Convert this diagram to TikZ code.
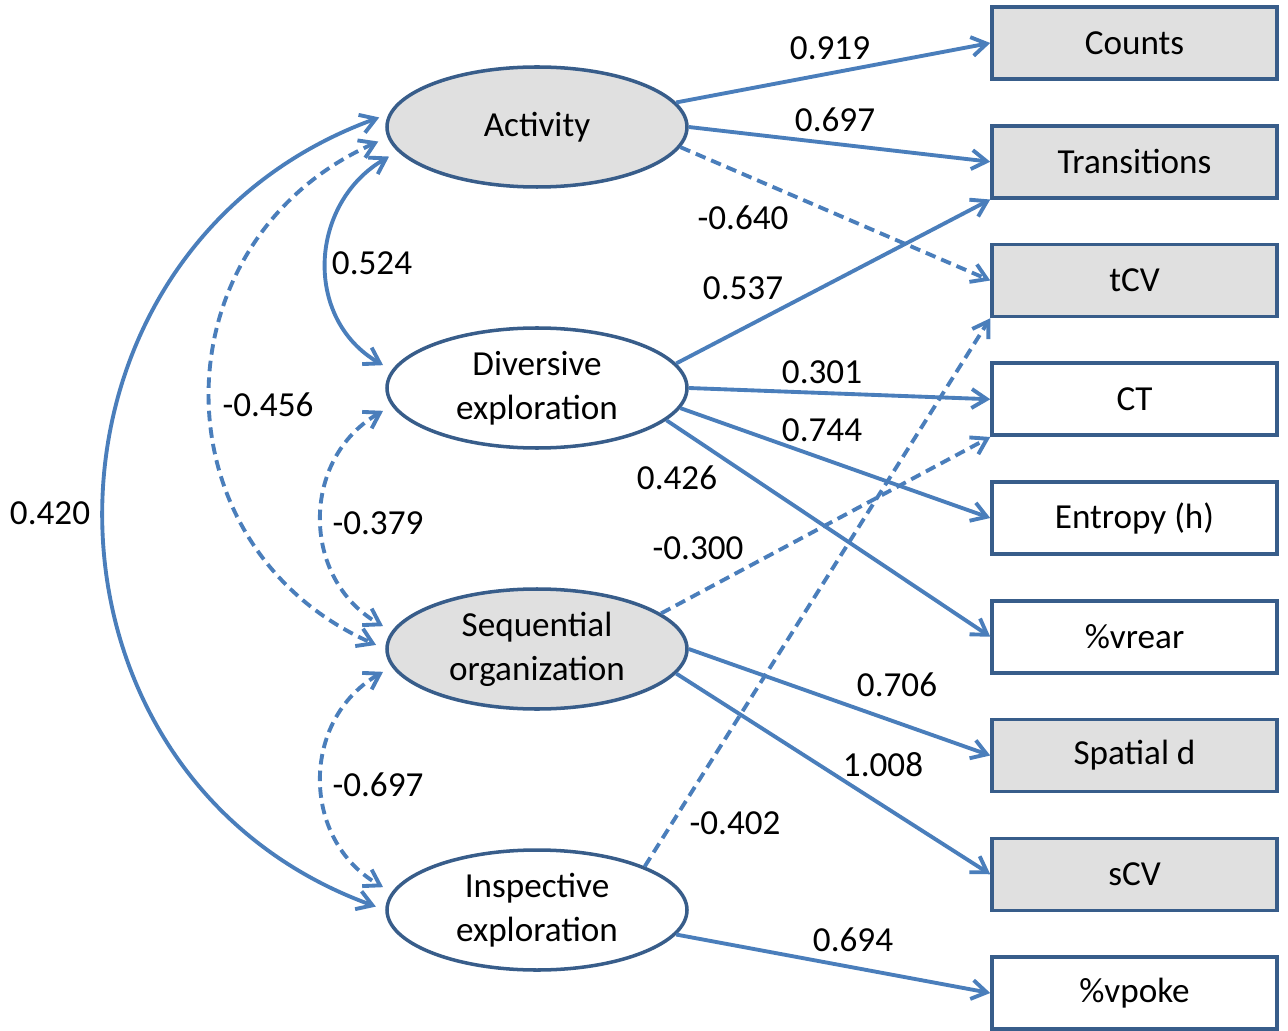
\documentclass[tikz,border=0pt]{standalone}
\usepackage{fontspec}
\setmainfont{Carlito}
\usetikzlibrary{shapes.geometric, arrows.meta}
\definecolor{pathblue}{RGB}{74,126,187}
\definecolor{borderblue}{RGB}{56,93,138}
\definecolor{factorgray}{RGB}{224,224,224}

\begin{document}
\begin{tikzpicture}[
    latent/.style={ellipse, draw=borderblue, line width=2pt, minimum width=6cm, minimum height=2.4cm, inner sep=0pt, align=center, font=\fontsize{20}{25}\selectfont},
    indicator/.style={rectangle, draw=borderblue, line width=2pt, minimum width=5.7cm, minimum height=1.44cm, inner sep=0pt, font=\fontsize{20}{25}\selectfont},
    shaded/.style={fill=factorgray},
    coef/.style={font=\fontsize{20}{25}\selectfont, inner sep=1pt},
    load/.style={-{Straight Barb[length=0.3cm, width=0.38cm]}, line width=2.2pt, color=pathblue},
    cov/.style={{Straight Barb[length=0.3cm, width=0.38cm]}-{Straight Barb[length=0.3cm, width=0.38cm]}, line width=2.2pt, color=pathblue, shorten <=0.2cm, shorten >=0.2cm},
    negpath/.style={dash pattern=on 6pt off 3.5pt}
]
\useasboundingbox (0,0) rectangle (25.76,20.6);

% Latent factors
\node[latent, shaded] (act) at (10.74,18.06) {Activity};
\node[latent] (div) at (10.74,12.84) {Diversive\\exploration};
\node[latent, shaded] (seq) at (10.74,7.62) {Sequential\\organization};
\node[latent] (ins) at (10.74,2.40) {Inspective\\exploration};

% Measured variables
\node[indicator, shaded] (counts) at (22.69,19.74) {Counts};
\node[indicator, shaded] (trans) at (22.69,17.365) {Transitions};
\node[indicator, shaded] (tcv) at (22.69,14.99) {tCV};
\node[indicator] (ct) at (22.69,12.615) {CT};
\node[indicator] (entropy) at (22.69,10.24) {Entropy (h)};
\node[indicator] (vrear) at (22.69,7.865) {\%vrear};
\node[indicator, shaded] (spatial) at (22.69,5.49) {Spatial d};
\node[indicator, shaded] (scv) at (22.69,3.115) {sCV};
\node[indicator] (vpoke) at (22.69,0.74) {\%vpoke};

% Loadings
\draw[load] (act.10) -- (counts.west);
\draw[load] (act.east) -- (trans.west);
\draw[load, negpath] (act.352) -- (tcv.west);
\draw[load] (div.10) -- (trans.south west);
\draw[load] (div.east) -- (ct.west);
\draw[load] (div.352) -- (entropy.west);
\draw[load] (div.346) -- (vrear.west);
\draw[load, negpath] (seq.16) -- (ct.south west);
\draw[load] (seq.east) -- (spatial.west);
\draw[load] (seq.350) -- (scv.west);
\draw[load, negpath] (ins.22) -- (tcv.south west);
\draw[load] (ins.350) -- (vpoke.west);

% Factor covariances
\draw[cov] (act.175) to[out=200, in=160, looseness=1.28] (ins.180);
\draw[cov, negpath] (act.184) to[out=204, in=156, looseness=1.27] (seq.180);
\draw[cov] (act.190) to[out=210, in=150, looseness=1.2] (div.173);
\draw[cov, negpath] (div.187) to[out=210, in=150, looseness=1.2] (seq.173);
\draw[cov, negpath] (seq.187) to[out=210, in=150, looseness=1.2] (ins.173);

% Coefficients
\node[coef] (c919) at (16.60,19.64) {0.919};
\node[coef] (c697a) at (16.70,18.20) {0.697};
\node[coef] (c640) at (14.86,16.24) {-0.640};
\node[coef] (c537) at (14.86,14.84) {0.537};
\node[coef] (c301) at (16.44,13.16) {0.301};
\node[coef] (c744) at (16.44,12.00) {0.744};
\node[coef] (c426) at (13.54,11.04) {0.426};
\node[coef] (c300) at (13.96,9.64) {-0.300};
\node[coef] (c706) at (17.94,6.90) {0.706};
\node[coef] (c1008) at (17.66,5.30) {1.008};
\node[coef] (c402) at (14.70,4.14) {-0.402};
\node[coef] (c694) at (17.06,1.80) {0.694};
\node[coef] (c524) at (7.44,15.34) {0.524};
\node[coef] (c456) at (5.36,12.50) {-0.456};
\node[coef] (c379) at (7.56,10.14) {-0.379};
\node[coef] (c697b) at (7.56,4.90) {-0.697};
\node[coef] (c420) at (1.00,10.34) {0.420};

\end{tikzpicture}
\end{document}
